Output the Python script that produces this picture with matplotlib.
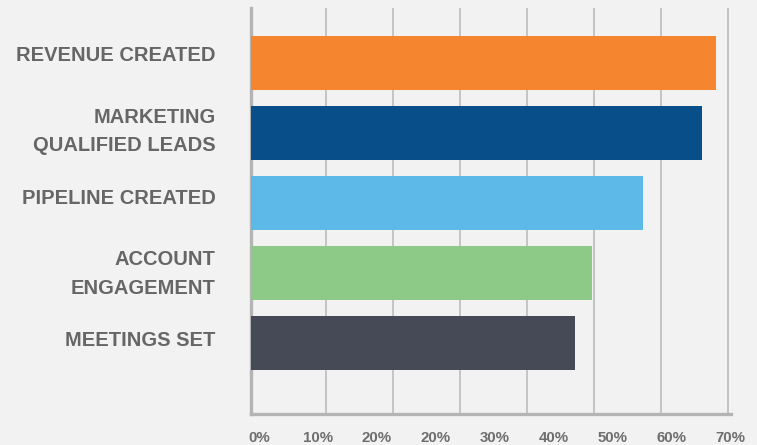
import matplotlib.pyplot as plt
import numpy as np

# 类别与数值（按从上到下的顺序）
categories = [
    "REVENUE CREATED",
    "MARKETING\nQUALIFIED LEADS",
    "PIPELINE CREATED",
    "ACCOUNT\nENGAGEMENT",
    "MEETINGS SET",
]
values = [68.3, 66.1, 57.3, 49.7, 47.2]
bar_colors = ["#F5852F", "#084F89", "#5DB9E8", "#8DCA88", "#464A56"]

# 原图的刻度文字与网格线并不对齐，且 20% 出现了两次，这里照原样保留
tick_labels = ["0%", "10%", "20%", "20%", "30%", "40%", "50%", "60%", "70%"]
grid_values = [10, 20, 30, 40, 50, 60, 70]

bg = "#F2F2F2"
text_color = "#666666"
font = "Liberation Sans"

fig = plt.figure(figsize=(7.57, 4.45), dpi=100, facecolor=bg)
ax = fig.add_axes([0.331, 0.0697, 0.634, 0.912], facecolor=bg)

xmin, xmax = -1.27, 70.2
y = np.arange(len(categories))
ax.barh(y, np.array(values) - xmin, left=xmin, height=0.771,
        color=bar_colors, zorder=3)

ax.set_xlim(xmin, xmax)
ax.set_ylim(len(categories) - 1 + 1.014, -0.786)

# 网格线放在 minor 刻度上，文字放在 major 刻度上
ax.set_xticks(grid_values, minor=True)
ax.set_xticks(np.linspace(0, 70.4, len(tick_labels)))
ax.set_xticklabels(tick_labels)
ax.grid(which="minor", axis="x", color="#C4C4C4", linewidth=1.4, zorder=0)
ax.tick_params(axis="x", which="both", length=0, pad=12,
               labelsize=10.8, labelcolor="#6E6E6E")
for lbl in ax.get_xticklabels():
    lbl.set_fontweight("bold")
    lbl.set_family(font)

# 原图中类别文字的间距比柱子略大，且整体偏上
ax.set_yticks(y * 1.021 - 0.143)
ax.set_yticklabels(categories, fontsize=14.5, fontweight="bold",
                   color=text_color, family=font, linespacing=1.66)
ax.tick_params(axis="y", length=0, pad=25)

for side in ["top", "right"]:
    ax.spines[side].set_visible(False)
for side in ["left", "bottom"]:
    ax.spines[side].set_color("#B4B4B4")
    ax.spines[side].set_linewidth(2.4)

fig.savefig("out.png", dpi=100, facecolor=bg)
